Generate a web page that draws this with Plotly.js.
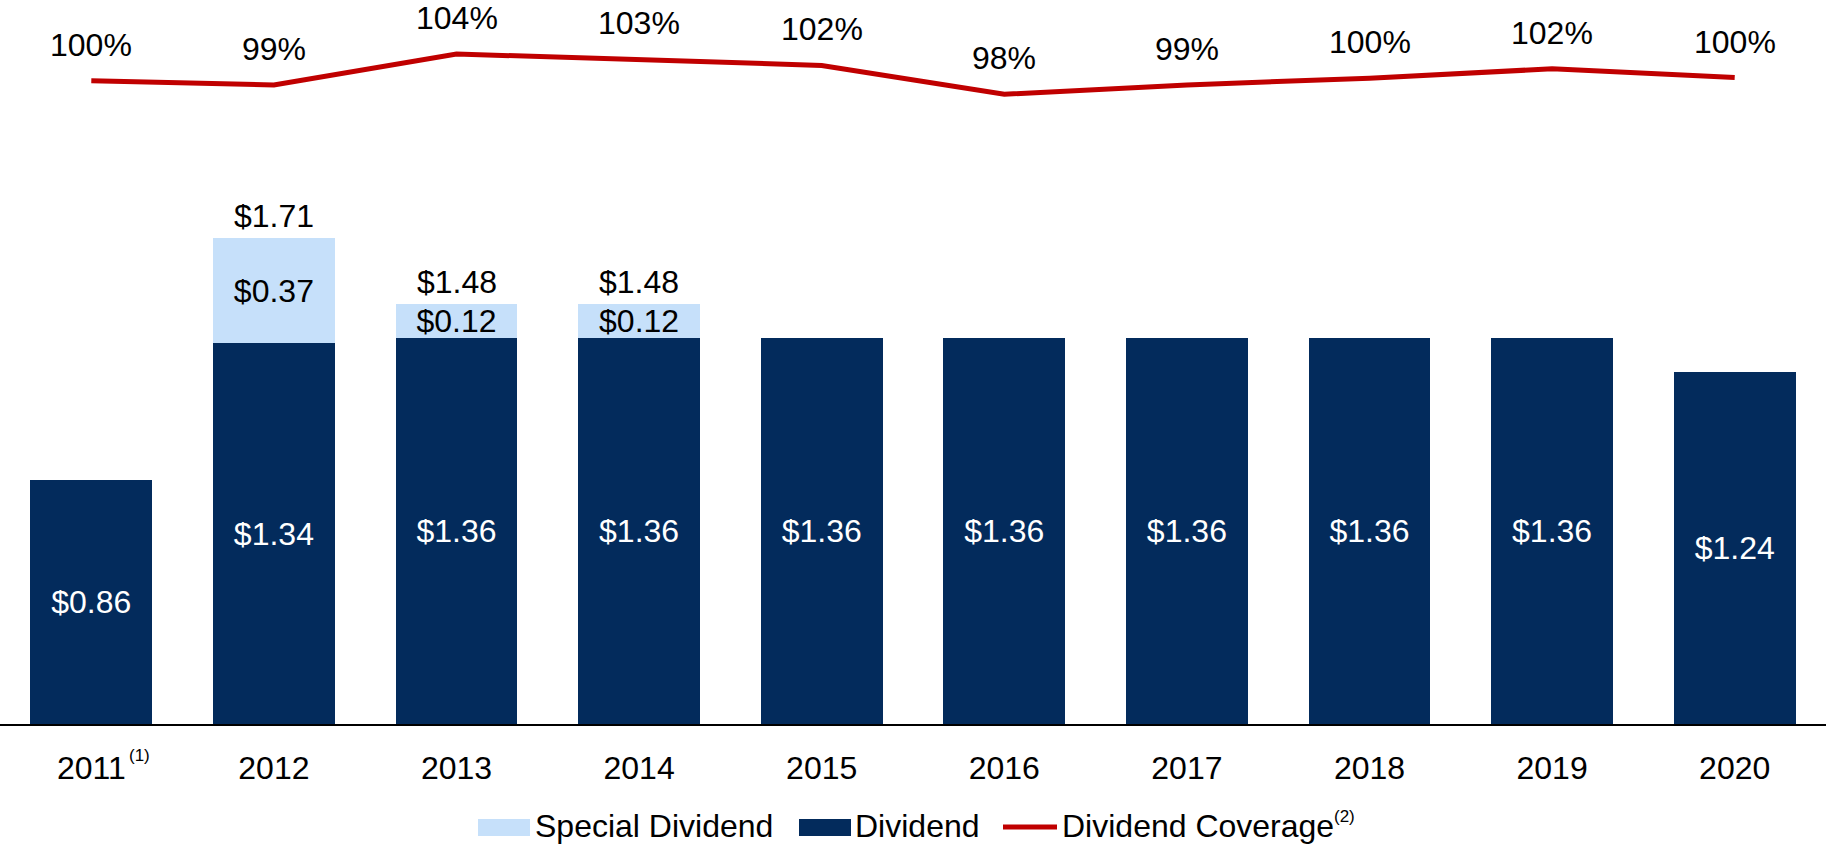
<!DOCTYPE html>
<html>
<head>
<meta charset="utf-8">
<script src="https://cdn.plot.ly/plotly-3.0.1.min.js"></script>
<style>
  html, body { margin: 0; padding: 0; background: #fff; }
  #chart { width: 1826px; height: 848px; }
</style>
</head>
<body>
<div id="chart"></div>
<script>
// values
var years = ['2011', '2012', '2013', '2014', '2015', '2016', '2017', '2018', '2019', '2020'];
var dividend = [0.86, 1.34, 1.36, 1.36, 1.36, 1.36, 1.36, 1.36, 1.36, 1.24];
var specialDividend = [null, 0.37, 0.12, 0.12, null, null, null, null, null, null];
var coverage = [100.0, 99.4, 104.0, 103.2, 102.3, 98.0, 99.4, 100.4, 101.8, 100.49];

var navy = '#032B5C';
var lightBlue = '#C6E0FA';
var red = '#C00000';
var fontFam = 'Arial, "Liberation Sans", sans-serif';
var fs = 32;

var W = 1826, H = 848, plotBottom = 724;
// helpers for the hand drawn legend, pixel -> paper
function px(x) { return x / W; }
function py(y) { return (plotBottom - y) / plotBottom; }

var divTrace = {
    x: years,
    y: dividend,
    type: 'bar',
    name: 'Dividend',
    marker: {color: navy},
    texttemplate: '$%{y:.2f}',
    textposition: 'inside',
    insidetextanchor: 'middle',
    textangle: 0,
    constraintext: 'none',
    insidetextfont: {family: fontFam, size: fs, color: '#ffffff'},
    hoverinfo: 'skip'
};

var specialTrace = {
    x: years,
    y: specialDividend,
    type: 'bar',
    name: 'Special Dividend',
    marker: {color: lightBlue},
    texttemplate: '$%{y:.2f}',
    textposition: 'inside',
    insidetextanchor: 'middle',
    textangle: 0,
    constraintext: 'none',
    insidetextfont: {family: fontFam, size: fs, color: '#000000'},
    hoverinfo: 'skip'
};

var coverageTrace = {
    x: years,
    y: coverage,
    yaxis: 'y2',
    type: 'scatter',
    mode: 'lines',
    name: 'Dividend Coverage',
    line: {color: red, width: 5},
    cliponaxis: false,
    hoverinfo: 'skip'
};

var annotations = [];

// coverage labels above the line (category axis -> use the index)
coverage.forEach(function (v, i) {
    annotations.push({
        x: i, y: v, xref: 'x', yref: 'y2',
        text: Math.round(v) + '%',
        showarrow: false, yanchor: 'middle', yshift: 36,
        font: {family: fontFam, size: fs, color: '#000'}
    });
});

// totals above the stacked bars that have a special dividend
specialDividend.forEach(function (s, i) {
    if (s == null) return;
    var total = dividend[i] + s;
    annotations.push({
        x: i, y: total, xref: 'x', yref: 'y',
        text: '$' + total.toFixed(2),
        showarrow: false, yanchor: 'middle', yshift: 22,
        font: {family: fontFam, size: fs, color: '#000'}
    });
});

// footnote marker on 2011
annotations.push({
    x: 0, y: 0, xref: 'x', yref: 'paper',
    text: '(1)', showarrow: false,
    xshift: 48, yshift: -31, yanchor: 'middle',
    font: {family: fontFam, size: 17, color: '#000'}
});

// legend text
var legendItems = [
    {text: 'Special Dividend', x: 533},
    {text: 'Dividend', x: 853},
    {text: 'Dividend Coverage', x: 1060}
];
legendItems.forEach(function (it) {
    annotations.push({
        x: px(it.x), y: py(826), xref: 'paper', yref: 'paper',
        text: it.text, showarrow: false, xanchor: 'left', yanchor: 'middle',
        font: {family: fontFam, size: fs, color: '#000'}
    });
});
annotations.push({
    x: px(1332), y: py(816), xref: 'paper', yref: 'paper',
    text: '(2)', showarrow: false, xanchor: 'left', yanchor: 'middle',
    font: {family: fontFam, size: 17, color: '#000'}
});

var shapes = [
    {type: 'rect', xref: 'paper', yref: 'paper', x0: px(478), x1: px(530), y0: py(836), y1: py(819),
        fillcolor: lightBlue, line: {width: 0}},
    {type: 'rect', xref: 'paper', yref: 'paper', x0: px(799), x1: px(851), y0: py(836), y1: py(819),
        fillcolor: navy, line: {width: 0}},
    {type: 'line', xref: 'paper', yref: 'paper', x0: px(1003), x1: px(1057), y0: py(827), y1: py(827),
        line: {color: red, width: 5}}
];

var layout = {
    width: W,
    height: H,
    margin: {l: 0, r: 0, t: 0, b: H - plotBottom},
    paper_bgcolor: '#ffffff',
    plot_bgcolor: '#ffffff',
    barmode: 'stack',
    bargap: 0.332,
    showlegend: false,
    font: {family: fontFam, size: fs, color: '#000'},
    xaxis: {
        type: 'category',
        range: [-0.5, 9.5],
        showline: true,
        linecolor: '#000',
        linewidth: 2,
        ticks: '',
        showgrid: false,
        zeroline: false,
        ticklabelstandoff: 15,
        tickfont: {family: fontFam, size: fs, color: '#000'}
    },
    yaxis: {
        range: [0, 2.549],
        visible: false,
        showgrid: false,
        zeroline: false
    },
    yaxis2: {
        range: [4.25, 112.04],
        overlaying: 'y',
        side: 'right',
        visible: false,
        showgrid: false,
        zeroline: false
    },
    annotations: annotations,
    shapes: shapes
};

Plotly.newPlot('chart', [divTrace, specialTrace, coverageTrace], layout, {staticPlot: true});
</script>
</body>
</html>
